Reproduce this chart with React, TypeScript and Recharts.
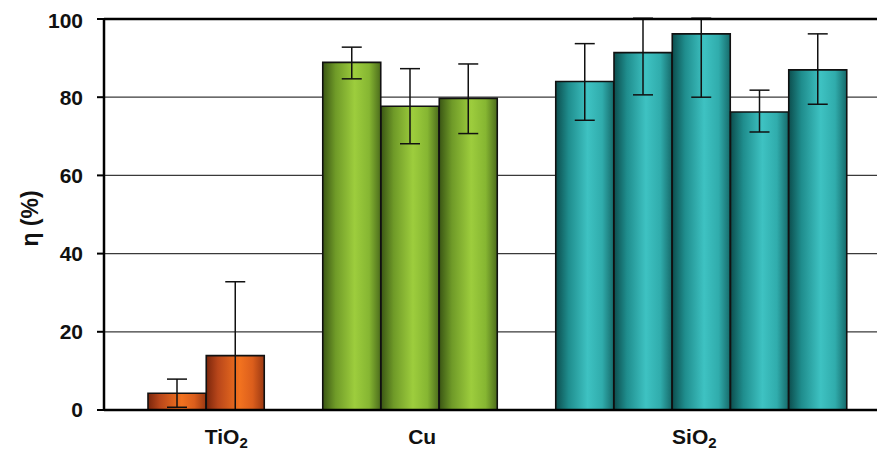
import { BarChart, Bar, XAxis, YAxis, CartesianGrid, ErrorBar, Cell, ReferenceLine, Label } from "recharts"

// group labels on the x axis (digits are drawn as subscripts)
const categories = ["TiO2", "Cu", "SiO2"]

// efficiency η (%) per sample, and [below, above] error lengths
const tio2Values = [4.3, 13.9]
const tio2Errors = [[3.6, 3.6], [13.9, 18.9]]

const cuValues = [88.9, 77.7, 79.7]
const cuErrors = [[4.2, 3.9], [9.6, 9.6], [9.0, 8.8]]

const sio2Values = [84.0, 91.4, 96.2, 76.2, 87.0]
const sio2Errors = [[9.9, 9.7], [10.8, 8.8], [16.2, 4.0], [5.1, 5.6], [8.8, 9.2]]

const yTicks = [0, 20, 40, 60, 80, 100]

const series = [
  { values: tio2Values, errors: tio2Errors },
  { values: cuValues, errors: cuErrors },
  { values: sio2Values, errors: sio2Errors },
]

type Row = { name: string; group: string; eta: number | null; err: number[] | null }

const rows: Row[] = []
series.forEach((s, g) => {
  if (g > 0) rows.push({ name: `gap${g}`, group: "", eta: null, err: null })
  s.values.forEach((v, i) => {
    rows.push({ name: `${categories[g]}-${i + 1}`, group: categories[g], eta: v, err: s.errors[i] })
  })
})

const W = 877
const H = 444
const Y_W = 96
const PAD_L = 44
const PAD_R = 38
const BAND = (W - Y_W - PAD_L - PAD_R) / rows.length
const FONT = "'Liberation Sans', Arial, sans-serif"

const fills: Record<string, string> = {
  TiO2: "url(#gOrange)",
  Cu: "url(#gGreen)",
  SiO2: "url(#gTeal)",
}
// labels in the original are not exactly centred under their groups
const nudge: Record<string, number> = { TiO2: 20, Cu: 12, SiO2: -7 }

function GroupTick(props: any) {
  const { x, y, payload } = props
  const row = rows.find((r) => r.name === payload.value)
  if (!row || !row.group) return null
  const members = rows.filter((r) => r.group === row.group)
  if (members[0].name !== row.name) return null
  const cx = x + ((members.length - 1) / 2) * BAND + nudge[row.group]
  const parts = row.group.match(/[A-Za-z]+|\d+/g) || []
  return (
    <text x={cx} y={y + 34} textAnchor="middle" fontFamily={FONT} fontSize={21} fontWeight="bold" fill="#111">
      {parts.map((p, i) =>
        /\d/.test(p) ? (
          <tspan key={i} fontSize={15} dy={4}>{p}</tspan>
        ) : (
          <tspan key={i} dy={i > 0 ? -4 : 0}>{p}</tspan>
        )
      )}
    </text>
  )
}

export default function App() {
  return (
    <BarChart
      width={W}
      height={H}
      data={rows}
      margin={{ top: 11, right: 0, bottom: 0, left: 0 }}
      barCategoryGap={0}
      barGap={0}
    >
      <defs>
        <linearGradient id="gOrange" x1="0" y1="0" x2="1" y2="0">
          <stop offset="0%" stopColor="#7a260c" />
          <stop offset="20%" stopColor="#b8461a" />
          <stop offset="58%" stopColor="#f2721f" />
          <stop offset="80%" stopColor="#db5e1c" />
          <stop offset="100%" stopColor="#9a3812" />
        </linearGradient>
        <linearGradient id="gGreen" x1="0" y1="0" x2="1" y2="0">
          <stop offset="0%" stopColor="#3a5614" />
          <stop offset="22%" stopColor="#6f9a28" />
          <stop offset="55%" stopColor="#9dcd3d" />
          <stop offset="80%" stopColor="#86b632" />
          <stop offset="100%" stopColor="#4c6c1c" />
        </linearGradient>
        <linearGradient id="gTeal" x1="0" y1="0" x2="1" y2="0">
          <stop offset="0%" stopColor="#0c4e4e" />
          <stop offset="22%" stopColor="#1f8d8d" />
          <stop offset="55%" stopColor="#3ec2c2" />
          <stop offset="80%" stopColor="#30acac" />
          <stop offset="100%" stopColor="#166a6a" />
        </linearGradient>
      </defs>
      <CartesianGrid vertical={false} stroke="#3a3a3a" strokeWidth={1.3} />
      <XAxis
        dataKey="name"
        height={42}
        interval={0}
        padding={{ left: PAD_L, right: PAD_R }}
        axisLine={{ stroke: "#000", strokeWidth: 2.5 }}
        tickLine={false}
        tickSize={0}
        tickMargin={0}
        tick={<GroupTick />}
      />
      <YAxis
        width={Y_W}
        domain={[0, 100]}
        ticks={yTicks}
        allowDataOverflow
        axisLine={{ stroke: "#000", strokeWidth: 2.5 }}
        tickLine={{ stroke: "#000", strokeWidth: 2 }}
        tickSize={7}
        tickMargin={14}
        tick={{ fontFamily: FONT, fontSize: 21, fontWeight: "bold", fill: "#111" }}
      >
        <Label
          content={({ viewBox }: any) => {
            const cx = viewBox.x + 22
            const cy = viewBox.y + viewBox.height / 2 + 4
            return (
              <text
                x={cx}
                y={cy}
                transform={`rotate(-90 ${cx} ${cy})`}
                textAnchor="middle"
                dominantBaseline="central"
                fontFamily={FONT}
                fontSize={23}
                fontWeight="bold"
                fill="#111"
              >
                η (%)
              </text>
            )
          }}
        />
      </YAxis>
      <Bar dataKey="eta" stroke="#111" strokeWidth={1.6} isAnimationActive={false}>
        {rows.map((r) => (
          <Cell key={r.name} fill={fills[r.group] || "none"} />
        ))}
        <ErrorBar dataKey="err" direction="y" width={10} stroke="#111" strokeWidth={1.5} />
      </Bar>
      <ReferenceLine y={100} stroke="#000" strokeWidth={2.5} />
    </BarChart>
  )
}
